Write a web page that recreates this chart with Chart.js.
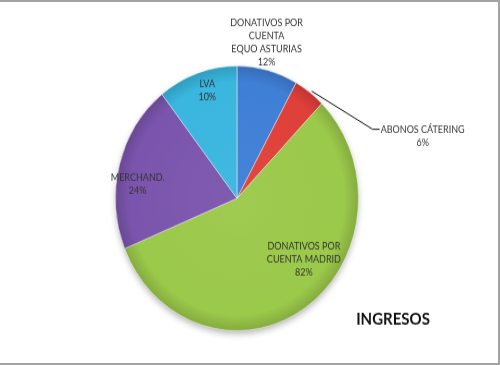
<!DOCTYPE html>
<html>
<head>
<meta charset="utf-8">
<script src="https://cdn.jsdelivr.net/npm/chart.js@4.4.0/dist/chart.umd.min.js"></script>
<style>
    html, body { margin: 0; padding: 0; background: #fff; }
    #wrap { position: relative; width: 500px; height: 365px; overflow: hidden; }
    #chart { position: absolute; left: 0; top: 0; transform: scale(1, 1.0896); transform-origin: 0 0; }
    #frame {
        position: absolute; left: 0; top: 0; width: 498px; height: 361px;
        border-top: 2px solid #a3a3a3; border-right: 2px solid #a3a3a3; border-bottom: 2px solid #a3a3a3;
        pointer-events: none;
    }
</style>
</head>
<body>
<div id="wrap">
    <canvas id="chart" width="500" height="335"></canvas>
    <div id="frame"></div>
</div>
<script>
// Data (slice sizes, labels as printed)
const categories = ['DONATIVOS POR CUENTA EQUO ASTURIAS', 'ABONOS CÁTERING', 'DONATIVOS POR CUENTA MADRID', 'MERCHAND.', 'LVA'];
const sliceValues = [8.1, 4.2, 56.5, 20.6, 10.6];
const printedPercents = ['12%', '6%', '82%', '24%', '10%'];
const labelLines = [
    ['DONATIVOS POR', 'CUENTA', 'EQUO ASTURIAS'],
    ['ABONOS CÁTERING'],
    ['DONATIVOS POR', 'CUENTA MADRID'],
    ['MERCHAND.'],
    ['LVA']
];
const chartTitle = 'INGRESOS';

// Styles
const sliceColors = ['#3f7fd6', '#df4039', '#9bc94a', '#7b55ad', '#3ab6df'];
// [radius factor along mid angle, dx, dy]
const labelPlace = [[1.196, -7, -2], null, [0.69, 20, -13], [0.82, -3, 12], [0.85, 4, -1]];

function shade(hex, amt) {
    const n = parseInt(hex.slice(1), 16);
    let r = (n >> 16) & 255, g = (n >> 8) & 255, b = n & 255;
    const f = c => Math.max(0, Math.min(255, Math.round(amt < 0 ? c * (1 + amt) : c + (255 - c) * amt)));
    return `rgb(${f(r)}, ${f(g)}, ${f(b)})`;
}

function sliceFill(context) {
    const base = sliceColors[context.dataIndex];
    const area = context.chart.chartArea;
    if (!area) return base;
    const cx = (area.left + area.right) / 2;
    const cy = (area.top + area.bottom) / 2;
    const r = Math.min(area.width, area.height) / 2;
    const g = context.chart.ctx.createRadialGradient(cx, cy, 0, cx, cy, r);
    g.addColorStop(0, shade(base, 0.04));
    g.addColorStop(0.88, base);
    g.addColorStop(1, shade(base, -0.15));
    return g;
}

const FONT = 'Lato, "Open Sans", sans-serif';

const shadowPlugin = {
    id: 'pieShadow',
    beforeDatasetsDraw(chart) {
        const arc = chart.getDatasetMeta(0).data[0];
        if (!arc) return;
        const { x, y, outerRadius } = arc.getProps(['x', 'y', 'outerRadius'], true);
        const ctx = chart.ctx;
        ctx.save();
        ctx.shadowColor = 'rgba(0, 0, 0, 0.35)';
        ctx.shadowBlur = 7;
        ctx.shadowOffsetY = 3;
        ctx.fillStyle = '#888';
        ctx.beginPath();
        ctx.arc(x, y, outerRadius - 1, 0, Math.PI * 2);
        ctx.fill();
        ctx.restore();
    }
};

const labelPlugin = {
    id: 'sliceLabels',
    afterDatasetsDraw(chart) {
        const ctx = chart.ctx;
        const meta = chart.getDatasetMeta(0);
        ctx.save();
        ctx.fillStyle = '#333';
        ctx.font = '9px ' + FONT;
        ctx.textAlign = 'center';
        ctx.textBaseline = 'middle';
        const lh = 12;

        meta.data.forEach((arc, i) => {
            const { x, y, startAngle, endAngle, outerRadius } =
                arc.getProps(['x', 'y', 'startAngle', 'endAngle', 'outerRadius'], true);
            const mid = (startAngle + endAngle) / 2;
            const lines = labelLines[i].concat([printedPercents[i]]);
            let tx, ty;
            if (labelPlace[i]) {
                const [rf, dx, dy] = labelPlace[i];
                tx = x + Math.cos(mid) * outerRadius * rf + dx;
                ty = y + Math.sin(mid) * outerRadius * rf + dy;
            } else {
                // leader line from slice edge
                const ex = x + Math.cos(mid) * outerRadius;
                const ey = y + Math.sin(mid) * outerRadius;
                ctx.strokeStyle = '#111';
                ctx.lineWidth = 1;
                ctx.beginPath();
                ctx.moveTo(ex + 2, ey - 1);
                ctx.lineTo(ex + 63, ey + 34);
                ctx.lineTo(ex + 70, ey + 34);
                ctx.stroke();
                tx = ex + 113;
                ty = ey + 40;
            }
            const top = ty - (lines.length - 1) * lh / 2;
            lines.forEach((t, k) => ctx.fillText(t, tx, top + k * lh));
        });

        ctx.font = 'bold 15px ' + FONT;
        ctx.fillStyle = '#111';
        ctx.fillText(chartTitle, 393, 293);
        ctx.restore();
    }
};

new Chart(document.getElementById('chart'), {
    type: 'pie',
    data: {
        labels: categories,
        datasets: [{
            data: sliceValues,
            backgroundColor: sliceFill,
            borderColor: 'rgba(255, 255, 255, 0.45)',
            borderWidth: 1
        }]
    },
    options: {
        responsive: false,
        animation: false,
        layout: { padding: { top: 60, bottom: 31, left: 115, right: 141 } },
        plugins: {
            legend: { display: false },
            tooltip: { enabled: false }
        }
    },
    plugins: [shadowPlugin, labelPlugin]
});
</script>
</body>
</html>
